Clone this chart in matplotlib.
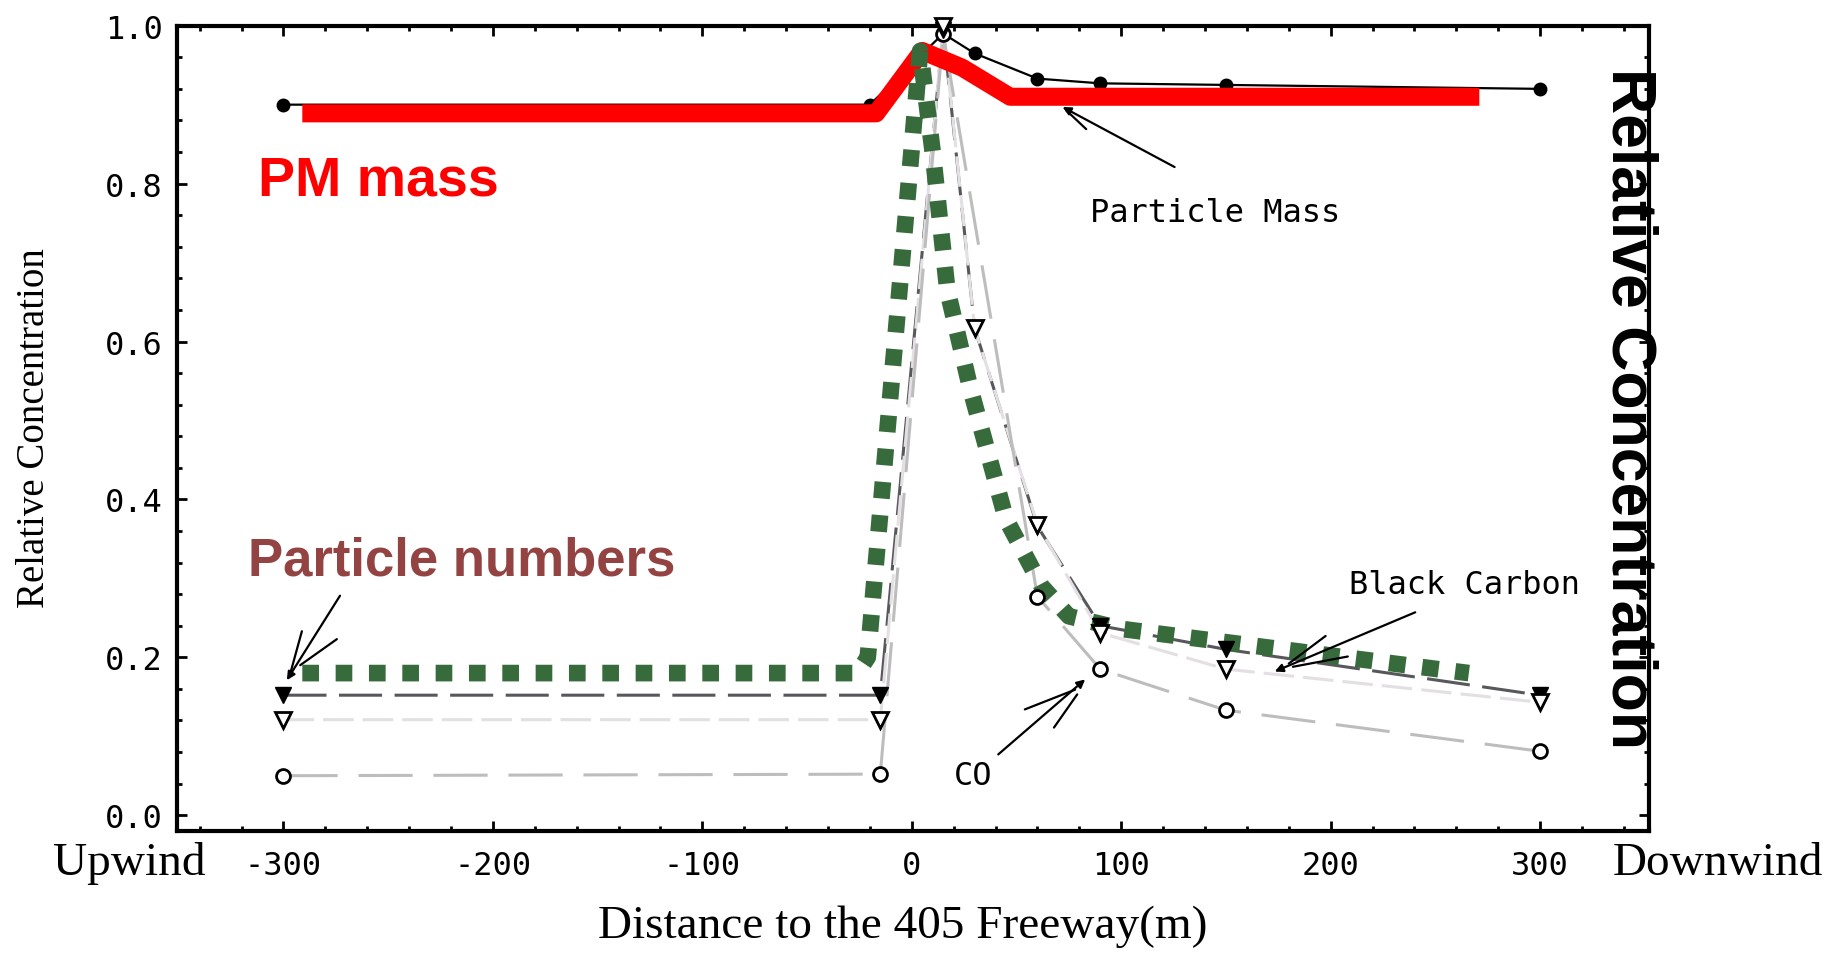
import numpy as np
import matplotlib
matplotlib.use("Agg")
import matplotlib.pyplot as plt
from matplotlib.ticker import MultipleLocator

# values (distance in m, relative concentration)
dist_pm = [-300, -20, 15, 30, 60, 90, 150, 300]
pm_mass = [0.90, 0.90, 0.99, 0.965, 0.933, 0.927, 0.925, 0.92]

dist = [-300, -15, 15, 30, 60, 90, 150, 300]
black_carbon = [0.152, 0.152, 0.995, 0.617, 0.366, 0.24, 0.21, 0.152]
numbers = [0.121, 0.121, 1.0, 0.617, 0.368, 0.231, 0.185, 0.143]

dist_co = [-300, -15, 15, 60, 90, 150, 300]
co = [0.05, 0.052, 0.99, 0.277, 0.185, 0.133, 0.081]

# hand drawn trend lines laid over the plot
red_x = [-291, -17, 5, 24, 47, 271]
red_y = [0.889, 0.889, 0.968, 0.947, 0.91, 0.91]
green_x = [-291, -26, -21, 4, 10, 17, 28, 45, 62, 75, 100, 266]
green_y = [0.18, 0.18, 0.2, 0.968, 0.84, 0.665, 0.54, 0.375, 0.29, 0.252, 0.236, 0.18]

xticks = [-300, -200, -100, 0, 100, 200, 300]
yticks = [0.0, 0.2, 0.4, 0.6, 0.8, 1.0]

plt.rcParams['lines.scale_dashes'] = False

fig = plt.figure(figsize=(18.42, 9.54), dpi=100)
ax = fig.add_axes([0.0959, 0.1279, 0.7993, 0.8441])

# thin measured series
ax.plot(dist_pm, pm_mass, color='black', lw=1.6, zorder=2)
ax.plot(dist, black_carbon, color='#58585c', lw=2.2, dashes=(31, 9), zorder=2)
ax.plot(dist, numbers, color='#e3dfe3', lw=2.2, dashes=(22, 6.5), zorder=2)
ax.plot(dist_co, co, color='#bdbdbd', lw=2.2, dashes=(39, 15), zorder=2)

# overlays
ax.plot(red_x, red_y, color='#ff0000', lw=13, solid_joinstyle='round',
        solid_capstyle='butt', zorder=3)
ax.plot(green_x, green_y, color='#386b3b', lw=12, dashes=(12, 12),
        dash_capstyle='butt', dash_joinstyle='round', zorder=4)

# markers (open triangles end up on top)
ax.plot(dist_pm, pm_mass, ls='none', marker='o', ms=9, color='black', zorder=2.5, clip_on=False)
ax.plot(dist_co, co, ls='none', marker='o', ms=10, mfc='white', mec='black', mew=2,
        zorder=6, clip_on=False)
ax.plot(dist, black_carbon, ls='none', marker='v', ms=12, color='black', zorder=6, clip_on=False)
ax.plot(dist, numbers, ls='none', marker='v', ms=12, mfc='white', mec='black', mew=2,
        zorder=6, clip_on=False)

ax.set_xlim(-351, 352)
ax.set_ylim(-0.02, 1.0)
ax.set_xticks(xticks)
ax.set_xticklabels([str(v) for v in xticks])
ax.set_yticks(yticks)
ax.set_yticklabels(['%.1f' % v for v in yticks])
ax.xaxis.set_minor_locator(MultipleLocator(20))
ax.yaxis.set_minor_locator(MultipleLocator(0.04))
ax.tick_params(which='both', direction='in', top=True, right=True, width=2)
ax.tick_params(which='major', length=7.5)
ax.tick_params(axis='x', which='major', pad=14)
ax.tick_params(axis='y', which='major', pad=10)
ax.tick_params(which='minor', length=3.5)
for lab in ax.get_xticklabels() + ax.get_yticklabels():
    lab.set_family('DejaVu Sans Mono')
    lab.set_fontsize(23)
for s in ax.spines.values():
    s.set_linewidth(3)

# annotation arrows (main line + short barbs)
def arrow(x0, y0, x1, y1, head=True):
    ax.annotate('', xy=(x1, y1), xytext=(x0, y0),
                arrowprops=dict(arrowstyle='-|>' if head else '-', color='black', lw=1.6,
                                mutation_scale=12, shrinkA=0, shrinkB=0), zorder=7)

arrow(125.5, 0.821, 72, 0.897)
arrow(83.3, 0.869, 73.7, 0.893, head=False)

arrow(-273, 0.278, -298.4, 0.171)
arrow(-274.5, 0.223, -292, 0.19, head=False)
arrow(-291.2, 0.233, -296.8, 0.179, head=False)

arrow(240.4, 0.257, 173.3, 0.182)
arrow(197.6, 0.227, 180, 0.192, head=False)
arrow(208.2, 0.201, 182, 0.188, head=False)

arrow(41.3, 0.077, 82.8, 0.172)
arrow(54, 0.134, 78, 0.159, head=False)
arrow(67.9, 0.111, 79, 0.153, head=False)

mono = dict(family='DejaVu Sans Mono', fontsize=23, va='center', ha='left', zorder=8)
ax.text(85, 0.763, 'Particle Mass', **mono)
ax.text(209, 0.292, 'Black Carbon', **mono)
ax.text(20, 0.05, 'CO', **mono)

ax.text(-312, 0.786, 'PM mass', color='#ff0000', family='Liberation Sans',
        fontweight='bold', fontsize=40, va='baseline', zorder=8)
ax.text(-317, 0.305, 'Particle numbers', color='#944343', family='Liberation Sans',
        fontweight='bold', fontsize=38, va='baseline', zorder=8)

serif = 'Liberation Serif'
fig.text(205 / 1842, 1 - 864 / 954, 'Upwind', family=serif, fontsize=34,
         ha='right', va='center')
fig.text(1613 / 1842, 1 - 864 / 954, 'Downwind', family=serif, fontsize=34,
         ha='left', va='center')
fig.text(903 / 1842, 1 - 927 / 954, 'Distance to the 405 Freeway(m)', family=serif,
         fontsize=34, ha='center', va='center')
fig.text(34 / 1842, 1 - 428 / 954, 'Relative Concentration', family=serif,
         fontsize=28, rotation=90, ha='center', va='center')
fig.text(1629 / 1842, 1 - 409 / 954, 'Relative Concentration', family='Liberation Sans',
         fontweight='bold', fontsize=45, rotation=-90, ha='center', va='center')

fig.savefig('out.png', dpi=100)
